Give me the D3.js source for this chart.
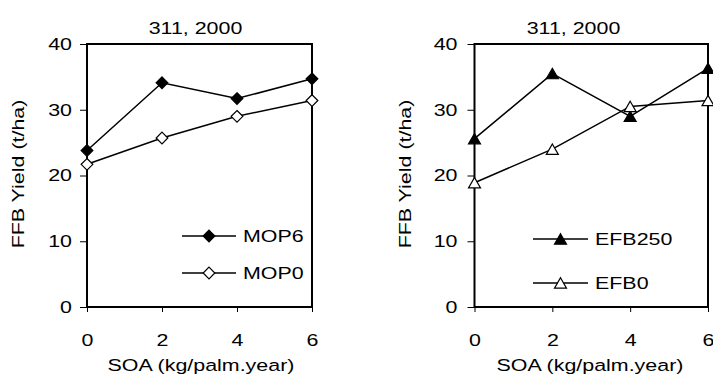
<!DOCTYPE html>
<html><head><meta charset="utf-8">
<script src="https://cdn.jsdelivr.net/npm/d3@7"></script>
<style>body{margin:0;background:#fff}svg{display:block}text{font-family:"Liberation Sans",Arial,sans-serif}</style>
</head><body>
<svg id="c" width="713" height="379"></svg>
<script>
const xValues = [0, 2, 4, 6];
const yTicks = [0, 10, 20, 30, 40];
const titleText = "311, 2000";
const leftSeriesNames = ["MOP6", "MOP0"];
const mop6 = [23.8, 34.1, 31.7, 34.7];
const mop0 = [21.7, 25.7, 29.0, 31.4];
const rightSeriesNames = ["EFB250", "EFB0"];
const efb250 = [25.6, 35.5, 29.0, 36.3];
const efb0 = [18.9, 24.0, 30.5, 31.4];

const svg = d3.select("#c");
const fs = 17;
const stretch = 1.26;

function panel(cfg) {
  const g = svg.append("g");
  const x = d3.scaleLinear().domain([0, 6]).range([cfg.x0, cfg.x1]);
  const y = d3.scaleLinear().domain([0, 40]).range([307, 44]);
  const ya = g.append("g").attr("transform", `translate(${cfg.x0},0)`)
    .call(d3.axisLeft(y).tickValues(yTicks).tickFormat(d3.format("d")).tickSize(7).tickPadding(cfg.yPad));
  const xa = g.append("g").attr("transform", `translate(0,307)`)
    .call(d3.axisBottom(x).tickValues(xValues).tickFormat(d3.format("d")).tickSize(5).tickPadding(22));
  [ya, xa].forEach(a => {
    a.select(".domain").remove();
    a.selectAll("line").attr("stroke", "#000").attr("stroke-width", 1);
    a.selectAll("text").attr("font-size", fs).attr("fill", "#000").style("font-family", '"Liberation Sans",Arial,sans-serif');
  });
  g.append("rect").attr("x", cfg.x0).attr("y", 44).attr("width", cfg.x1 - cfg.x0).attr("height", 263)
    .attr("fill", "none").attr("stroke", "#000").attr("stroke-width", 2);
  g.append("text").attr("x", cfg.tx).attr("y", 34).attr("text-anchor", "middle").attr("font-size", fs).text(titleText);
  g.append("text").attr("transform", `translate(${cfg.ax},174) rotate(-90)`).attr("text-anchor", "middle")
    .attr("font-size", fs).text("FFB Yield (t/ha)");
  g.append("text").attr("x", cfg.xt).attr("y", 371).attr("text-anchor", "middle").attr("font-size", fs).text("SOA (kg/palm.year)");
  const line = d3.line().x((d, i) => x(xValues[i])).y(d => y(d));
  cfg.series.forEach(s => {
    g.append("path").datum(s.values).attr("d", line).attr("fill", "none").attr("stroke", "#000").attr("stroke-width", 1.5);
  });
  const sym = d3.symbol().type(cfg.symbol).size(cfg.symSize);
  cfg.series.forEach(s => {
    g.selectAll(null).data(s.values).enter().append("path")
      .attr("transform", (d, i) => `translate(${x(xValues[i])},${y(d) + cfg.symDy})`)
      .attr("d", sym).attr("fill", s.fill).attr("stroke", "#000").attr("stroke-width", 1.2);
  });
  cfg.series.forEach((s, k) => {
    const ly = cfg.ly[k];
    g.append("line").attr("x1", cfg.lx0).attr("x2", cfg.lx1).attr("y1", ly).attr("y2", ly).attr("stroke", "#000").attr("stroke-width", 1.5);
    g.append("path").attr("transform", `translate(${(cfg.lx0 + cfg.lx1) / 2},${ly + cfg.symDy})`).attr("d", sym)
      .attr("fill", s.fill).attr("stroke", "#000").attr("stroke-width", 1.2);
    g.append("text").attr("x", cfg.lx1 + 7).attr("y", ly + 6).attr("font-size", fs).text(s.name);
  });
}

panel({x0: 87, x1: 312, tx: 195.5, ax: 24, xt: 201, yPad: 8, symbol: d3.symbolDiamond2, symSize: 87, symDy: 0,
  lx0: 182, lx1: 236, ly: [236, 273],
  series: [{name: leftSeriesNames[0], values: mop6, fill: "#000"}, {name: leftSeriesNames[1], values: mop0, fill: "#fff"}]});
panel({x0: 474.5, x1: 708, tx: 573.5, ax: 411, xt: 590, yPad: 10, symbol: d3.symbolTriangle, symSize: 62, symDy: 1.7,
  lx0: 533, lx1: 588, ly: [239, 283],
  series: [{name: rightSeriesNames[0], values: efb250, fill: "#000"}, {name: rightSeriesNames[1], values: efb0, fill: "#fff"}]});

// widen the glyphs horizontally (along the reading direction) around each text's anchor
svg.selectAll("text").each(function() {
  const b = this.getBBox();
  const anchor = this.getAttribute("text-anchor") || getComputedStyle(this).textAnchor || "start";
  const cx = anchor === "middle" ? b.x + b.width / 2 : anchor === "end" ? b.x + b.width : b.x;
  const t = this.getAttribute("transform") || "";
  this.setAttribute("transform", `${t} translate(${cx},0) scale(${stretch},1) translate(${-cx},0)`);
});
</script>
</body></html>
